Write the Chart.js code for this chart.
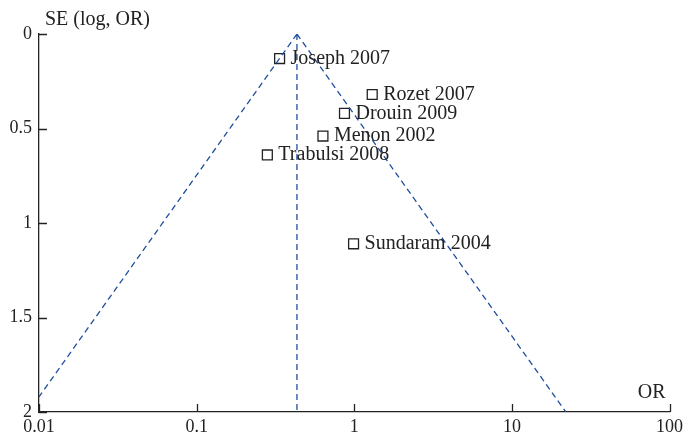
<!DOCTYPE html>
<html>
<head>
<meta charset="utf-8">
<script src="https://cdn.jsdelivr.net/npm/chart.js@4"></script>
<style>
  html, body { margin: 0; padding: 0; background: #fff; }
  #wrap { width: 687px; height: 442px; }
</style>
</head>
<body>
<div id="wrap"><canvas id="funil"></canvas></div>
<script>
// estudos (OR, SE)
const estudos = ["Joseph 2007", "Rozet 2007", "Drouin 2009", "Menon 2002", "Trabulsi 2008", "Sundaram 2004"];
const orValores = [0.336, 1.30, 0.867, 0.633, 0.281, 0.99];
const seValores = [0.13, 0.32, 0.42, 0.54, 0.64, 1.11];

// funil (linhas tracejadas)
const funilEsq = [[0.433, 0], [0.01, 1.92]];
const funilDir = [[0.433, 0], [22, 2]];
const funilMeio = [[0.433, 0], [0.433, 2]];

const xTicks = [0.01, 0.1, 1, 10, 100];
const yTicks = [0, 0.5, 1, 1.5, 2];

const fonte = "'Liberation Serif', 'DejaVu Serif', serif";
const corTexto = "#222";
const azul = "#1f4e9c";

function linha(pts) {
  return {
    type: "line",
    data: pts.map(p => ({ x: p[0], y: p[1] })),
    borderColor: azul,
    borderWidth: 1.3,
    borderDash: [6, 4],
    pointRadius: 0,
    fill: false
  };
}

// ticks para dentro + rótulos dos estudos + títulos dos eixos
const extras = {
  id: "extras",
  afterDraw(chart) {
    const ctx = chart.ctx;
    const xs = chart.scales.x, ys = chart.scales.y;
    const a = chart.chartArea;
    ctx.save();
    ctx.strokeStyle = corTexto;
    ctx.lineWidth = 1.3;
    ctx.beginPath();
    xTicks.forEach(t => {
      let px = Math.round(xs.getPixelForValue(t)) + 0.5;
      ctx.moveTo(px, a.bottom);
      ctx.lineTo(px, a.bottom - 8);
    });
    yTicks.forEach(t => {
      let py = Math.round(ys.getPixelForValue(t)) + 0.5;
      ctx.moveTo(a.left, py);
      ctx.lineTo(a.left + 8, py);
    });
    ctx.stroke();

    ctx.fillStyle = corTexto;
    ctx.font = "20px " + fonte;
    ctx.textBaseline = "middle";
    ctx.textAlign = "left";
    let meta = chart.getDatasetMeta(3);
    meta.data.forEach((pt, i) => {
      ctx.fillText(estudos[i], pt.x + 11, pt.y);
    });

    ctx.textBaseline = "alphabetic";
    ctx.fillText("SE (log, OR)", 45, 25);
    ctx.textAlign = "right";
    ctx.fillText("OR", a.right - 4, a.bottom - 14);
    ctx.restore();
  }
};

new Chart(document.getElementById("funil"), {
  type: "scatter",
  data: {
    datasets: [
      linha(funilEsq),
      linha(funilDir),
      linha(funilMeio),
      {
        type: "scatter",
        data: orValores.map((v, i) => ({ x: v, y: seValores[i] })),
        pointStyle: "rect",
        pointRadius: 7,
        pointHoverRadius: 7,
        backgroundColor: "#fff",
        borderColor: corTexto,
        borderWidth: 1.3
      }
    ]
  },
  options: {
    responsive: true,
    maintainAspectRatio: false,
    animation: false,
    layout: { padding: { top: 34, right: 16, left: 0, bottom: 0 } },
    plugins: { legend: { display: false }, tooltip: { enabled: false } },
    scales: {
      x: {
        type: "logarithmic",
        min: 0.01,
        max: 100,
        afterBuildTicks: s => { s.ticks = xTicks.map(v => ({ value: v })); },
        afterFit: s => { s.height = 30; },
        grid: { display: false, drawTicks: false },
        border: { display: true, color: corTexto, width: 1.3 },
        ticks: {
          color: corTexto,
          padding: 4,
          maxRotation: 0,
          autoSkip: false,
          font: { family: fonte, size: 18 },
          callback: v => String(v)
        }
      },
      y: {
        type: "linear",
        reverse: true,
        min: 0,
        max: 2,
        afterBuildTicks: s => { s.ticks = yTicks.map(v => ({ value: v })); },
        afterFit: s => { s.width = 39; },
        grid: { display: false, drawTicks: false },
        border: { display: true, color: corTexto, width: 1.3 },
        ticks: {
          color: corTexto,
          padding: 7,
          font: { family: fonte, size: 18 },
          callback: v => String(v)
        }
      }
    }
  },
  plugins: [extras]
});
</script>
</body>
</html>
